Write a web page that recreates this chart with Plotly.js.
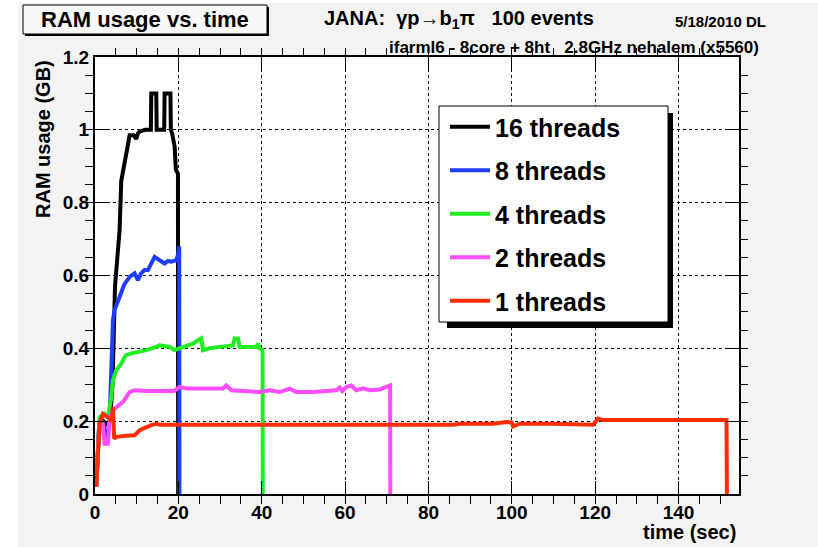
<!DOCTYPE html>
<html>
<head>
<meta charset="utf-8">
<script src="https://cdn.plot.ly/plotly-3.0.1.min.js"></script>
<style>html,body{margin:0;padding:0;background:#fff;}#chart{width:818px;height:547px;}</style>
</head>
<body>
<div id="chart"></div>
<script>
// ---- data (time in sec, RAM in GB) ----
const seriesNames = ["16 threads", "8 threads", "4 threads", "2 threads", "1 threads"];
const seriesColors = ["#000000", "#1f3dff", "#22ee22", "#ff4dff", "#ff2d00"];

const t16 = [0.3, 1.0, 2.0, 3.0, 3.6, 4.2, 4.8, 5.9, 6.3, 7.1, 7.6, 8.3, 9.3, 9.9, 10.3, 10.7, 12.0, 13.4, 13.5, 14.7, 14.8, 16.6, 16.7, 18.1, 18.2, 18.5, 19.1, 19.4, 19.9, 19.95];
const v16 = [0.02, 0.19, 0.2, 0.19, 0.2, 0.3, 0.57, 0.725, 0.86, 0.92, 0.94, 0.985, 0.985, 0.975, 0.99, 0.995, 1.0, 1.0, 1.1, 1.1, 1.0, 1.0, 1.1, 1.1, 1.0, 0.99, 0.955, 0.89, 0.88, 0.0];

const t8 = [0.3, 1.0, 2.0, 2.5, 3.0, 3.5, 3.9, 4.3, 4.7, 5.1, 5.9, 7.0, 8.3, 9.5, 10.3, 11.0, 11.9, 12.7, 13.5, 14.3, 15.5, 16.7, 17.5, 18.3, 19.5, 20.0, 20.2, 20.25];
const v8 = [0.02, 0.19, 0.19, 0.17, 0.15, 0.2, 0.33, 0.477, 0.505, 0.52, 0.541, 0.575, 0.596, 0.606, 0.587, 0.605, 0.615, 0.615, 0.635, 0.651, 0.642, 0.633, 0.64, 0.638, 0.642, 0.66, 0.68, 0.0];

const t4 = [0.3, 1.1, 2.3, 3.1, 3.9, 4.3, 5.1, 6.3, 7.1, 7.5, 8.3, 10.7, 12.3, 14.7, 15.5, 17.9, 19.1, 20.3, 21.9, 23.5, 24.7, 25.5, 25.9, 27.5, 29.9, 31.9, 33.1, 33.5, 34.3, 34.7, 38.7, 39.1, 39.5, 40.2, 40.25];
const v4 = [0.02, 0.211, 0.22, 0.211, 0.266, 0.312, 0.34, 0.358, 0.376, 0.381, 0.385, 0.39, 0.395, 0.404, 0.408, 0.404, 0.395, 0.4, 0.408, 0.413, 0.422, 0.427, 0.395, 0.4, 0.404, 0.408, 0.408, 0.427, 0.427, 0.404, 0.404, 0.413, 0.4, 0.395, 0.0];

const t2 = [0.3, 1.0, 1.8, 2.3, 3.1, 3.5, 4.3, 5.5, 6.7, 7.5, 8.3, 9.5, 12.3, 19.0, 20.3, 21.9, 30.7, 31.5, 32.7, 39.5, 41.9, 44.3, 46.7, 48.3, 52.3, 57.9, 58.7, 59.3, 60.3, 61.5, 62.7, 64.3, 65.9, 68.3, 69.9, 70.8, 70.85];
const v2 = [0.02, 0.19, 0.2, 0.138, 0.138, 0.211, 0.23, 0.243, 0.253, 0.266, 0.28, 0.285, 0.283, 0.283, 0.294, 0.29, 0.29, 0.298, 0.285, 0.28, 0.285, 0.28, 0.289, 0.28, 0.28, 0.285, 0.292, 0.283, 0.294, 0.298, 0.285, 0.29, 0.285, 0.287, 0.294, 0.298, 0.0];

const t1 = [0.3, 1.1, 1.9, 2.7, 3.5, 4.0, 4.3, 4.6, 5.1, 7.5, 9.5, 10.7, 12.3, 13.5, 14.7, 15.5, 40.0, 86.0, 87.5, 95.5, 98.7, 100.0, 100.3, 101.9, 109.9, 119.5, 120.7, 121.9, 151.5, 151.6];
const v1 = [0.02, 0.193, 0.22, 0.215, 0.207, 0.2, 0.239, 0.152, 0.157, 0.16, 0.161, 0.175, 0.184, 0.189, 0.193, 0.19, 0.19, 0.19, 0.193, 0.193, 0.198, 0.196, 0.186, 0.193, 0.193, 0.19, 0.207, 0.203, 0.203, 0.0];

const xRange = [0, 154.5];
const yRange = [0, 1.2];
const xTickVals = [0, 20, 40, 60, 80, 100, 120, 140];
const yTickVals = [0, 0.2, 0.4, 0.6, 0.8, 1.0, 1.2];

const titleText = "RAM usage vs. time";
const header1 = "JANA:\u00a0\u00a0\u03b3p\u2192b<sub>1</sub>\u03c0\u00a0\u00a0\u00a0100 events";
const header2 = "ifarml6 - 8core + 8ht\u00a0\u00a0\u00a02.8GHz nehalem (x5560)";
const dateText = "5/18/2010 DL";
const yTitle = "RAM usage (GB)";
const xTitle = "time (sec)";

// ---- layout helpers ----
const W = 818, H = 547;
const M = {l: 95, r: 79, t: 57, b: 53};
const PW = W - M.l - M.r, PH = H - M.t - M.b;
const fx = px => (px - M.l) / PW;
const fy = py => (H - M.b - py) / PH;
const FONT = "Liberation Sans, Arial, Helvetica, sans-serif";

const xs = [t16, t8, t4, t2, t1];
const ys = [v16, v8, v4, v2, v1];
const traces = seriesNames.map((n, i) => ({
  type: "scatter", mode: "lines", name: n, x: xs[i], y: ys[i],
  legendgroup: "g" + i,
  line: {color: seriesColors[i], width: 4},
  hoverinfo: "skip"
}));
// empty trace that carries the mirrored (top/right) tick axes
traces.push({type: "scatter", mode: "lines", x: [], y: [], xaxis: "x2", yaxis: "y2", showlegend: false, hoverinfo: "skip"});

const tickCommon = {
  ticks: "inside", tickcolor: "#000", tickwidth: 1, ticklen: 13,
  zeroline: false, fixedrange: true
};
const tf = {family: FONT, size: 19, color: "#000", weight: "bold"};

const layout = {
  width: W, height: H,
  margin: {l: M.l, r: M.r, t: M.t, b: M.b, pad: 0},
  paper_bgcolor: "#f3f3f3", plot_bgcolor: "#ffffff",
  font: {family: FONT, color: "#000", weight: "bold"},
  showlegend: true,
  legend: {
    x: fx(445), y: fy(104), xanchor: "left", yanchor: "top",
    bgcolor: "rgba(0,0,0,0)", borderwidth: 0,
    font: {family: FONT, size: 25, color: "#000", weight: "bold"},
    itemwidth: 40, tracegroupgap: 8, traceorder: "grouped"
  },
  xaxis: Object.assign({}, tickCommon, {
    range: xRange, tickvals: xTickVals, tickfont: tf,
    showline: true, linecolor: "#000", linewidth: 2, mirror: true,
    showgrid: true, gridcolor: "#000", gridwidth: 1, griddash: "dot",
    minor: {dtick: 5, ticklen: 8, tickcolor: "#000", tickwidth: 1, showgrid: false}
  }),
  yaxis: Object.assign({}, tickCommon, {
    range: yRange, tickvals: yTickVals, tickfont: tf,
    showline: true, linecolor: "#000", linewidth: 2, mirror: true,
    showgrid: true, gridcolor: "#000", gridwidth: 1, griddash: "dot",
    minor: {dtick: 0.05, ticklen: 8, tickcolor: "#000", tickwidth: 1, showgrid: false}
  }),
  xaxis2: Object.assign({}, tickCommon, {
    overlaying: "x", side: "top", anchor: "y2", range: xRange, tickvals: xTickVals,
    showticklabels: false, showgrid: false, showline: false,
    minor: {dtick: 5, ticklen: 8, tickcolor: "#000", tickwidth: 1, showgrid: false}
  }),
  yaxis2: Object.assign({}, tickCommon, {
    overlaying: "y", side: "right", anchor: "x2", range: yRange, tickvals: yTickVals,
    showticklabels: false, showgrid: false, showline: false,
    minor: {dtick: 0.05, ticklen: 8, tickcolor: "#000", tickwidth: 1, showgrid: false}
  }),
  shapes: [
    {type: "rect", xref: "paper", yref: "paper", x0: fx(0), x1: fx(18), y0: fy(H), y1: fy(0), fillcolor: "#fff", line: {width: 0}, layer: "below"},
    {type: "rect", xref: "paper", yref: "paper", x0: fx(0), x1: fx(W), y0: fy(3), y1: fy(0), fillcolor: "#fff", line: {width: 0}, layer: "below"},
    {type: "rect", xref: "paper", yref: "paper", x0: fx(25), x1: fx(269), y0: fy(36), y1: fy(7), fillcolor: "#000", line: {width: 0}, layer: "below"},
    {type: "rect", xref: "paper", yref: "paper", x0: fx(23), x1: fx(267), y0: fy(34), y1: fy(5), fillcolor: "#f8f8f8", line: {width: 1, color: "#000"}, layer: "below"},
    {type: "rect", xref: "paper", yref: "paper", x0: fx(447), x1: fx(673), y0: fy(328), y1: fy(113), fillcolor: "#000", line: {width: 0}, layer: "above"},
    {type: "rect", xref: "paper", yref: "paper", x0: fx(439), x1: fx(668), y0: fy(322), y1: fy(106), fillcolor: "#fff", line: {width: 1, color: "#000"}, layer: "above"}
  ],
  annotations: [
    {text: titleText, xref: "paper", yref: "paper", x: fx(145), y: fy(19.5), xanchor: "center", yanchor: "middle", showarrow: false, font: {family: FONT, size: 22, color: "#000", weight: "bold"}},
    {text: header1, xref: "paper", yref: "paper", x: fx(322), y: fy(20), xanchor: "left", yanchor: "middle", showarrow: false, font: {family: FONT, size: 20, color: "#000", weight: "bold"}},
    {text: dateText, xref: "paper", yref: "paper", x: fx(768), y: fy(21), xanchor: "right", yanchor: "middle", showarrow: false, font: {family: FONT, size: 15, color: "#000", weight: "bold"}},
    {text: header2, xref: "paper", yref: "paper", x: fx(761), y: fy(47), xanchor: "right", yanchor: "middle", showarrow: false, font: {family: FONT, size: 17, color: "#000", weight: "bold"}},
    {text: yTitle, xref: "paper", yref: "paper", x: fx(43), y: fy(139), xanchor: "center", yanchor: "middle", textangle: -90, showarrow: false, font: {family: FONT, size: 20, color: "#000", weight: "bold"}},
    {text: xTitle, xref: "paper", yref: "paper", x: fx(738), y: fy(532), xanchor: "right", yanchor: "middle", showarrow: false, font: {family: FONT, size: 20, color: "#000", weight: "bold"}}
  ]
};

Plotly.newPlot("chart", traces, layout, {displayModeBar: false, staticPlot: true});
</script>
</body>
</html>
